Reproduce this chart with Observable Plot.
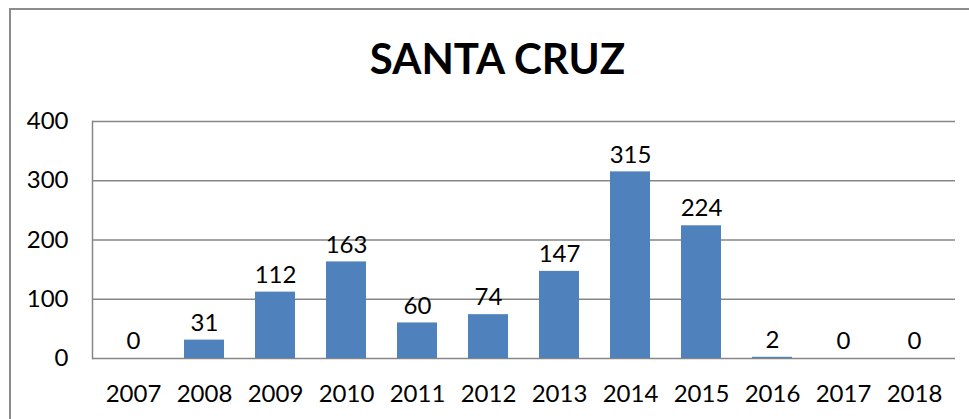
<!DOCTYPE html>
<html>
<head>
<meta charset="utf-8">
<script src="https://cdn.jsdelivr.net/npm/d3@7"></script>
<script src="https://cdn.jsdelivr.net/npm/@observablehq/plot@0.6"></script>
<style>
  html, body { margin: 0; padding: 0; background: #fff; }
  body { width: 969px; height: 419px; position: relative; overflow: hidden; font-family: Lato, "Open Sans", sans-serif; }
  #frame { position: absolute; left: 9px; top: 8px; width: 980px; height: 430px; border-left: 2px solid #8c8c8c; border-top: 2px solid #8c8c8c; }
  #title { position: absolute; left: 10px; width: 975px; top: 33px; text-align: center; font-weight: bold; font-size: 42px; line-height: 50px; color: #000; }
  #chart { position: absolute; left: 0; top: 0; }
</style>
</head>
<body>
<div id="frame"></div>
<div id="title">SANTA CRUZ</div>
<div id="chart"></div>
<script>
const years = ["2007","2008","2009","2010","2011","2012","2013","2014","2015","2016","2017","2018"];
const values = [0, 31, 112, 163, 60, 74, 147, 315, 224, 2, 0, 0];
const yTicks = [0, 100, 200, 300, 400];

const data = years.map((y, i) => ({year: y, value: values[i]}));

const chart = Plot.plot({
  width: 969,
  height: 419,
  marginLeft: 92,
  marginRight: 14,
  marginTop: 121,
  marginBottom: 61,
  style: {fontFamily: "Lato, 'Open Sans', sans-serif", fontSize: "24px", color: "#000", background: "transparent"},
  x: {domain: years, paddingInner: 0.43, paddingOuter: 0.215, label: null},
  y: {domain: [0, 400], ticks: yTicks, label: null},
  marks: [
    Plot.gridY(yTicks, {stroke: "#868686", strokeOpacity: 1, strokeWidth: 1.5}),
    Plot.frame({anchor: "left", stroke: "#868686", strokeWidth: 1.5}),
    Plot.barY(data, {x: "year", y: "value", fill: "#4f81bd"}),
    Plot.text(data, {x: "year", y: "value", text: d => String(d.value), dy: -17, fill: "#000", fontSize: 24}),
    Plot.axisX({tickSize: 0, tickPadding: 26, fontSize: 24}),
    Plot.axisY(yTicks, {tickSize: 0, tickPadding: 24, fontSize: 24})
  ]
});
document.getElementById("chart").appendChild(chart);
</script>
</body>
</html>
